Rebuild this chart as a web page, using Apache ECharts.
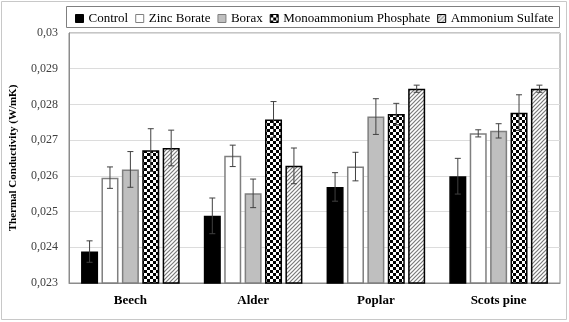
<!DOCTYPE html>
<html>
<head>
<meta charset="utf-8">
<script src="https://cdn.jsdelivr.net/npm/echarts@6/dist/echarts.min.js"></script>
<style>
  html, body { margin: 0; padding: 0; background: #fff; }
  #chart { width: 569px; height: 322px; }
</style>
</head>
<body>
<div id="chart"></div>
<script>
var categories = ['Beech', 'Alder', 'Poplar', 'Scots pine'];
var seriesNames = ['Control', 'Zinc Borate', 'Borax', 'Monoammonium Phosphate', 'Ammonium Sulfate'];

var controlVals = [0.02388, 0.02488, 0.02569, 0.02599];
var zincVals    = [0.02595, 0.02656, 0.02626, 0.02719];
var boraxVals   = [0.02618, 0.02551, 0.02766, 0.02726];
var mapVals     = [0.02672, 0.02758, 0.02773, 0.02777];
var asVals      = [0.02678, 0.02628, 0.02844, 0.02844];

var controlErr = [0.0003, 0.0005, 0.0004, 0.0005];
var zincErr    = [0.0003, 0.0003, 0.0004, 0.0001];
var boraxErr   = [0.0005, 0.0004, 0.0005, 0.0002];
var mapErr     = [0.0006, 0.0005, 0.0003, 0.0005];
var asErr      = [0.0005, 0.0005, 0.0001, 0.0001];

var yTicks = { min: 0.023, max: 0.03, interval: 0.001 };

var SERIF = "'Liberation Serif', 'Times New Roman', serif";

function draw_chart() {
  var dom = document.getElementById('chart');
  var myChart = echarts.init(dom, null, { renderer: 'canvas' });

  // checkerboard fill
  var checker = document.createElement('canvas');
  checker.width = 6; checker.height = 6;
  var c1 = checker.getContext('2d');
  c1.fillStyle = '#fff'; c1.fillRect(0, 0, 6, 6);
  c1.fillStyle = '#000'; c1.fillRect(0, 0, 3, 3); c1.fillRect(3, 3, 3, 3);

  // diagonal hatch fill
  var hatch = document.createElement('canvas');
  hatch.width = 4; hatch.height = 4;
  var c2 = hatch.getContext('2d');
  c2.fillStyle = '#fff'; c2.fillRect(0, 0, 4, 4);
  c2.strokeStyle = '#7a7a7a'; c2.lineWidth = 1.2;
  c2.beginPath();
  c2.moveTo(-1, 5); c2.lineTo(5, -1);
  c2.moveTo(-1, 1); c2.lineTo(1, -1);
  c2.moveTo(3, 5); c2.lineTo(5, 3);
  c2.stroke();

  var values = [controlVals, zincVals, boraxVals, mapVals, asVals];
  var errors = [controlErr, zincErr, boraxErr, mapErr, asErr];
  var fills = ['#000', '#fff', '#bfbfbf', { image: checker, repeat: 'repeat' }, { image: hatch, repeat: 'repeat' }];
  var borders = ['#000', '#7f7f7f', '#7f7f7f', '#000', '#000'];

  var barWidth = 17;
  var step = barWidth * 1.2;

  var series = [];
  var errData = [];
  for (var s = 0; s < 5; s++) {
    series.push({
      name: seriesNames[s],
      type: 'bar',
      barWidth: barWidth,
      barGap: '20%',
      data: values[s],
      itemStyle: { color: fills[s], borderColor: borders[s], borderWidth: 1.5 }
    });
    for (var i = 0; i < categories.length; i++) {
      errData.push([i, values[s][i], errors[s][i], s]);
    }
  }

  series.push({
    type: 'custom',
    z: 10,
    silent: true,
    data: errData,
    renderItem: function (params, api) {
      var cat = api.value(0), val = api.value(1), err = api.value(2), s = api.value(3);
      var hi = api.coord([cat, val + err]);
      var lo = api.coord([cat, val - err]);
      var x = hi[0] + (s - 2) * step;
      var style = { stroke: '#404040', lineWidth: 1 };
      return {
        type: 'group',
        children: [
          { type: 'line', shape: { x1: x, y1: hi[1], x2: x, y2: lo[1] }, style: style },
          { type: 'line', shape: { x1: x - 3, y1: hi[1], x2: x + 3, y2: hi[1] }, style: style },
          { type: 'line', shape: { x1: x - 3, y1: lo[1], x2: x + 3, y2: lo[1] }, style: style }
        ]
      };
    }
  });

  var option = {
    animation: false,
    backgroundColor: '#fff',
    textStyle: { fontFamily: SERIF },
    graphic: [
      { type: 'rect', shape: { x: 1.5, y: 1.5, width: 565, height: 318 }, style: { fill: 'none', stroke: '#c8c8c8', lineWidth: 1 }, z: -1 },
      { type: 'rect', shape: { x: 66.5, y: 6.5, width: 493, height: 21 }, style: { fill: 'none', stroke: '#7f7f7f', lineWidth: 1 }, z: -1 }
    ],
    legend: {
      top: 7,
      left: 70,
      itemWidth: 8,
      itemHeight: 8,
      itemGap: 7,
      itemStyle: { borderWidth: 1 },
      icon: 'rect',
      textStyle: { fontFamily: SERIF, fontSize: 13, color: '#000' },
      data: seriesNames
    },
    grid: {
      left: 65, right: 9, top: 33, bottom: 39,
      show: true, borderColor: '#8c8c8c', borderWidth: 1
    },
    xAxis: {
      type: 'category',
      data: categories,
      axisLine: { lineStyle: { color: '#8c8c8c' } },
      axisTick: { show: false },
      axisLabel: { fontFamily: SERIF, fontWeight: 'bold', fontSize: 13, color: '#000', margin: 11 }
    },
    yAxis: {
      type: 'value',
      min: yTicks.min,
      max: yTicks.max,
      interval: yTicks.interval,
      name: 'Thermal Conductivity (W/mK)',
      nameLocation: 'middle',
      nameGap: 50,
      nameTextStyle: { fontFamily: SERIF, fontWeight: 'bold', fontSize: 11, color: '#000' },
      axisLine: { show: true, lineStyle: { color: '#8c8c8c' } },
      axisTick: { show: false },
      splitLine: { lineStyle: { color: '#dcdcdc' } },
      axisLabel: {
        fontFamily: SERIF, fontSize: 12, color: '#404040', margin: 11,
        formatter: function (v) { return String(parseFloat(v.toFixed(4))).replace('.', ','); }
      }
    },
    series: series
  };
  myChart.setOption(option);
}
draw_chart();
</script>
</body>
</html>
